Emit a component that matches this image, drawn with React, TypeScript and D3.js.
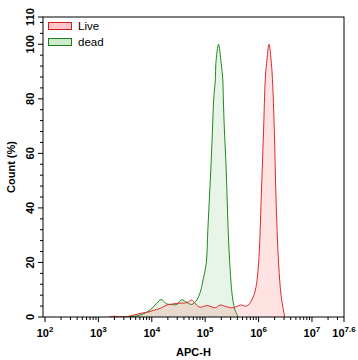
import React from "react";
import * as d3 from "d3";

const liveLog = [3.2, 3.3, 3.4, 3.55, 3.78, 3.97, 4.03, 4.16, 4.28, 4.34, 4.47, 4.66, 4.75, 4.81, 4.906, 5.03, 5.19, 5.28, 5.41, 5.53, 5.66, 5.78, 5.87, 5.94, 6.0, 6.05, 6.094, 6.125, 6.15, 6.195, 6.24, 6.26, 6.295, 6.326, 6.375, 6.425, 6.49];
const liveCount = [0, 0.3, 0, 0.2, 1.3, 2, 2.4, 3.2, 4.4, 4.6, 5, 5.3, 6.2, 5, 3.6, 4.2, 3.4, 4.4, 3.7, 3.4, 4.4, 4, 6.2, 9.9, 19.7, 44, 68.6, 87, 93, 100, 93, 87, 68.6, 44, 19.7, 7.4, 0];

const deadLog = [3.4, 3.556, 3.78, 3.97, 4.09, 4.175, 4.28, 4.36, 4.47, 4.56, 4.66, 4.75, 4.84, 4.906, 4.96, 5.02, 5.05, 5.08, 5.11, 5.137, 5.16, 5.19, 5.2, 5.25, 5.3, 5.33, 5.34, 5.36, 5.39, 5.41, 5.43, 5.46, 5.51, 5.56, 5.62];
const deadCount = [0, 0, 0.7, 2.6, 5, 6.4, 4.8, 4.6, 4.6, 6.3, 5.3, 4.6, 6.2, 9, 13.6, 19.7, 32, 44, 56, 68.6, 80, 87, 93, 100, 93, 87, 80, 68.6, 56, 44, 32, 19.7, 7.4, 2.5, 0];

const seriesNames = ["Live", "dead"];
const xMajorExps = [2, 3, 4, 5, 6, 7];
const xMaxExp = 7.6;
const yMajorTicks = [0, 20, 40, 60, 80, 100];
const yMax = 110;

const FONT = "'Liberation Sans', Arial, sans-serif";

export default function App() {
  const W = 358, H = 360;
  const left = 43, right = 344, top = 17, bottom = 317;
  const x = d3.scaleLog().domain([1e2, Math.pow(10, xMaxExp)]).range([45, right]);
  const y = d3.scaleLinear().domain([0, yMax]).range([bottom, top]);

  const mk = (logs: number[], counts: number[]) =>
    logs.map((l, i) => ({ v: Math.pow(10, l), c: counts[i] }));
  const live = mk(liveLog, liveCount);
  const dead = mk(deadLog, deadCount);

  const area = d3.area<{ v: number; c: number }>()
    .x(d => x(d.v)).y0(bottom).y1(d => y(d.c))
    .curve(d3.curveCatmullRom.alpha(0.5));
  const line = d3.line<{ v: number; c: number }>()
    .x(d => x(d.v)).y(d => y(d.c))
    .curve(d3.curveCatmullRom.alpha(0.5));

  const minorX: number[] = [];
  for (let e = 2; e < 8; e++) {
    for (let m = 2; m <= 9; m++) {
      const v = m * Math.pow(10, e);
      if (Math.log10(v) < xMaxExp) minorX.push(v);
    }
  }
  const minorY: number[] = [];
  for (let v = 0; v <= yMax; v += 4) if (!yMajorTicks.includes(v)) minorY.push(v);

  const redLine = "#e0292b";
  const greenLine = "#1e8a1e";

  return (
    <svg width={W} height={H} style={{ position: "absolute", left: 0, top: 0 }} fontFamily={FONT}>
      <rect x={0} y={0} width={W} height={H} fill="#fff" />
      <clipPath id="plotclip"><rect x={left} y={top} width={right - left} height={bottom - top} /></clipPath>
      <g clipPath="url(#plotclip)">
        <path d={area(live) || ""} fill="rgba(255,0,0,0.11)" />
        <path d={area(dead) || ""} fill="rgba(0,128,0,0.09)" />
        <path d={line(dead) || ""} fill="none" stroke={greenLine} strokeWidth={1} />
        <path d={line(live) || ""} fill="none" stroke={redLine} strokeWidth={1} />
      </g>
      <rect x={left} y={top} width={right - left} height={bottom - top} fill="none" stroke="#000" strokeWidth={1} />

      {/* y ticks */}
      {minorY.map(v => (
        <line key={"my" + v} x1={left - 3} x2={left} y1={y(v)} y2={y(v)} stroke="#000" />
      ))}
      {yMajorTicks.concat([yMax]).map(v => (
        <g key={"y" + v}>
          <line x1={left - 5} x2={left} y1={y(v)} y2={y(v)} stroke="#000" />
          <text transform={`translate(34,${y(v)}) rotate(-90)`} textAnchor="middle" fontSize={11} fontWeight="bold">{v}</text>
        </g>
      ))}
      <text transform={`translate(15,${(top + bottom) / 2}) rotate(-90)`} textAnchor="middle" fontSize={11} fontWeight="bold">Count (%)</text>

      {/* x ticks */}
      {minorX.map(v => (
        <line key={"mx" + v} x1={x(v)} x2={x(v)} y1={bottom} y2={bottom + 3} stroke="#000" />
      ))}
      {xMajorExps.concat([xMaxExp]).map(e => (
        <g key={"x" + e}>
          <line x1={x(Math.pow(10, e))} x2={x(Math.pow(10, e))} y1={bottom} y2={bottom + 5} stroke="#000" />
          <text x={x(Math.pow(10, e))} y={337} textAnchor="middle" fontSize={11} fontWeight="bold">
            10<tspan fontSize={8} dy={-5}>{e}</tspan>
          </text>
        </g>
      ))}
      <text x={(left + right) / 2} y={355.5} textAnchor="middle" fontSize={11} fontWeight="bold">APC-H</text>

      {/* legend */}
      <rect x={48.5} y={22.5} width={23} height={7} fill="#ffc4cc" stroke="#d02020" strokeWidth={1} />
      <text x={78} y={29.5} fontSize={11.5}>{seriesNames[0]}</text>
      <rect x={48.5} y={38.5} width={23} height={7} fill="#cdebcd" stroke="#1e7a1e" strokeWidth={1} />
      <text x={78} y={45.5} fontSize={11.5}>{seriesNames[1]}</text>
    </svg>
  );
}
